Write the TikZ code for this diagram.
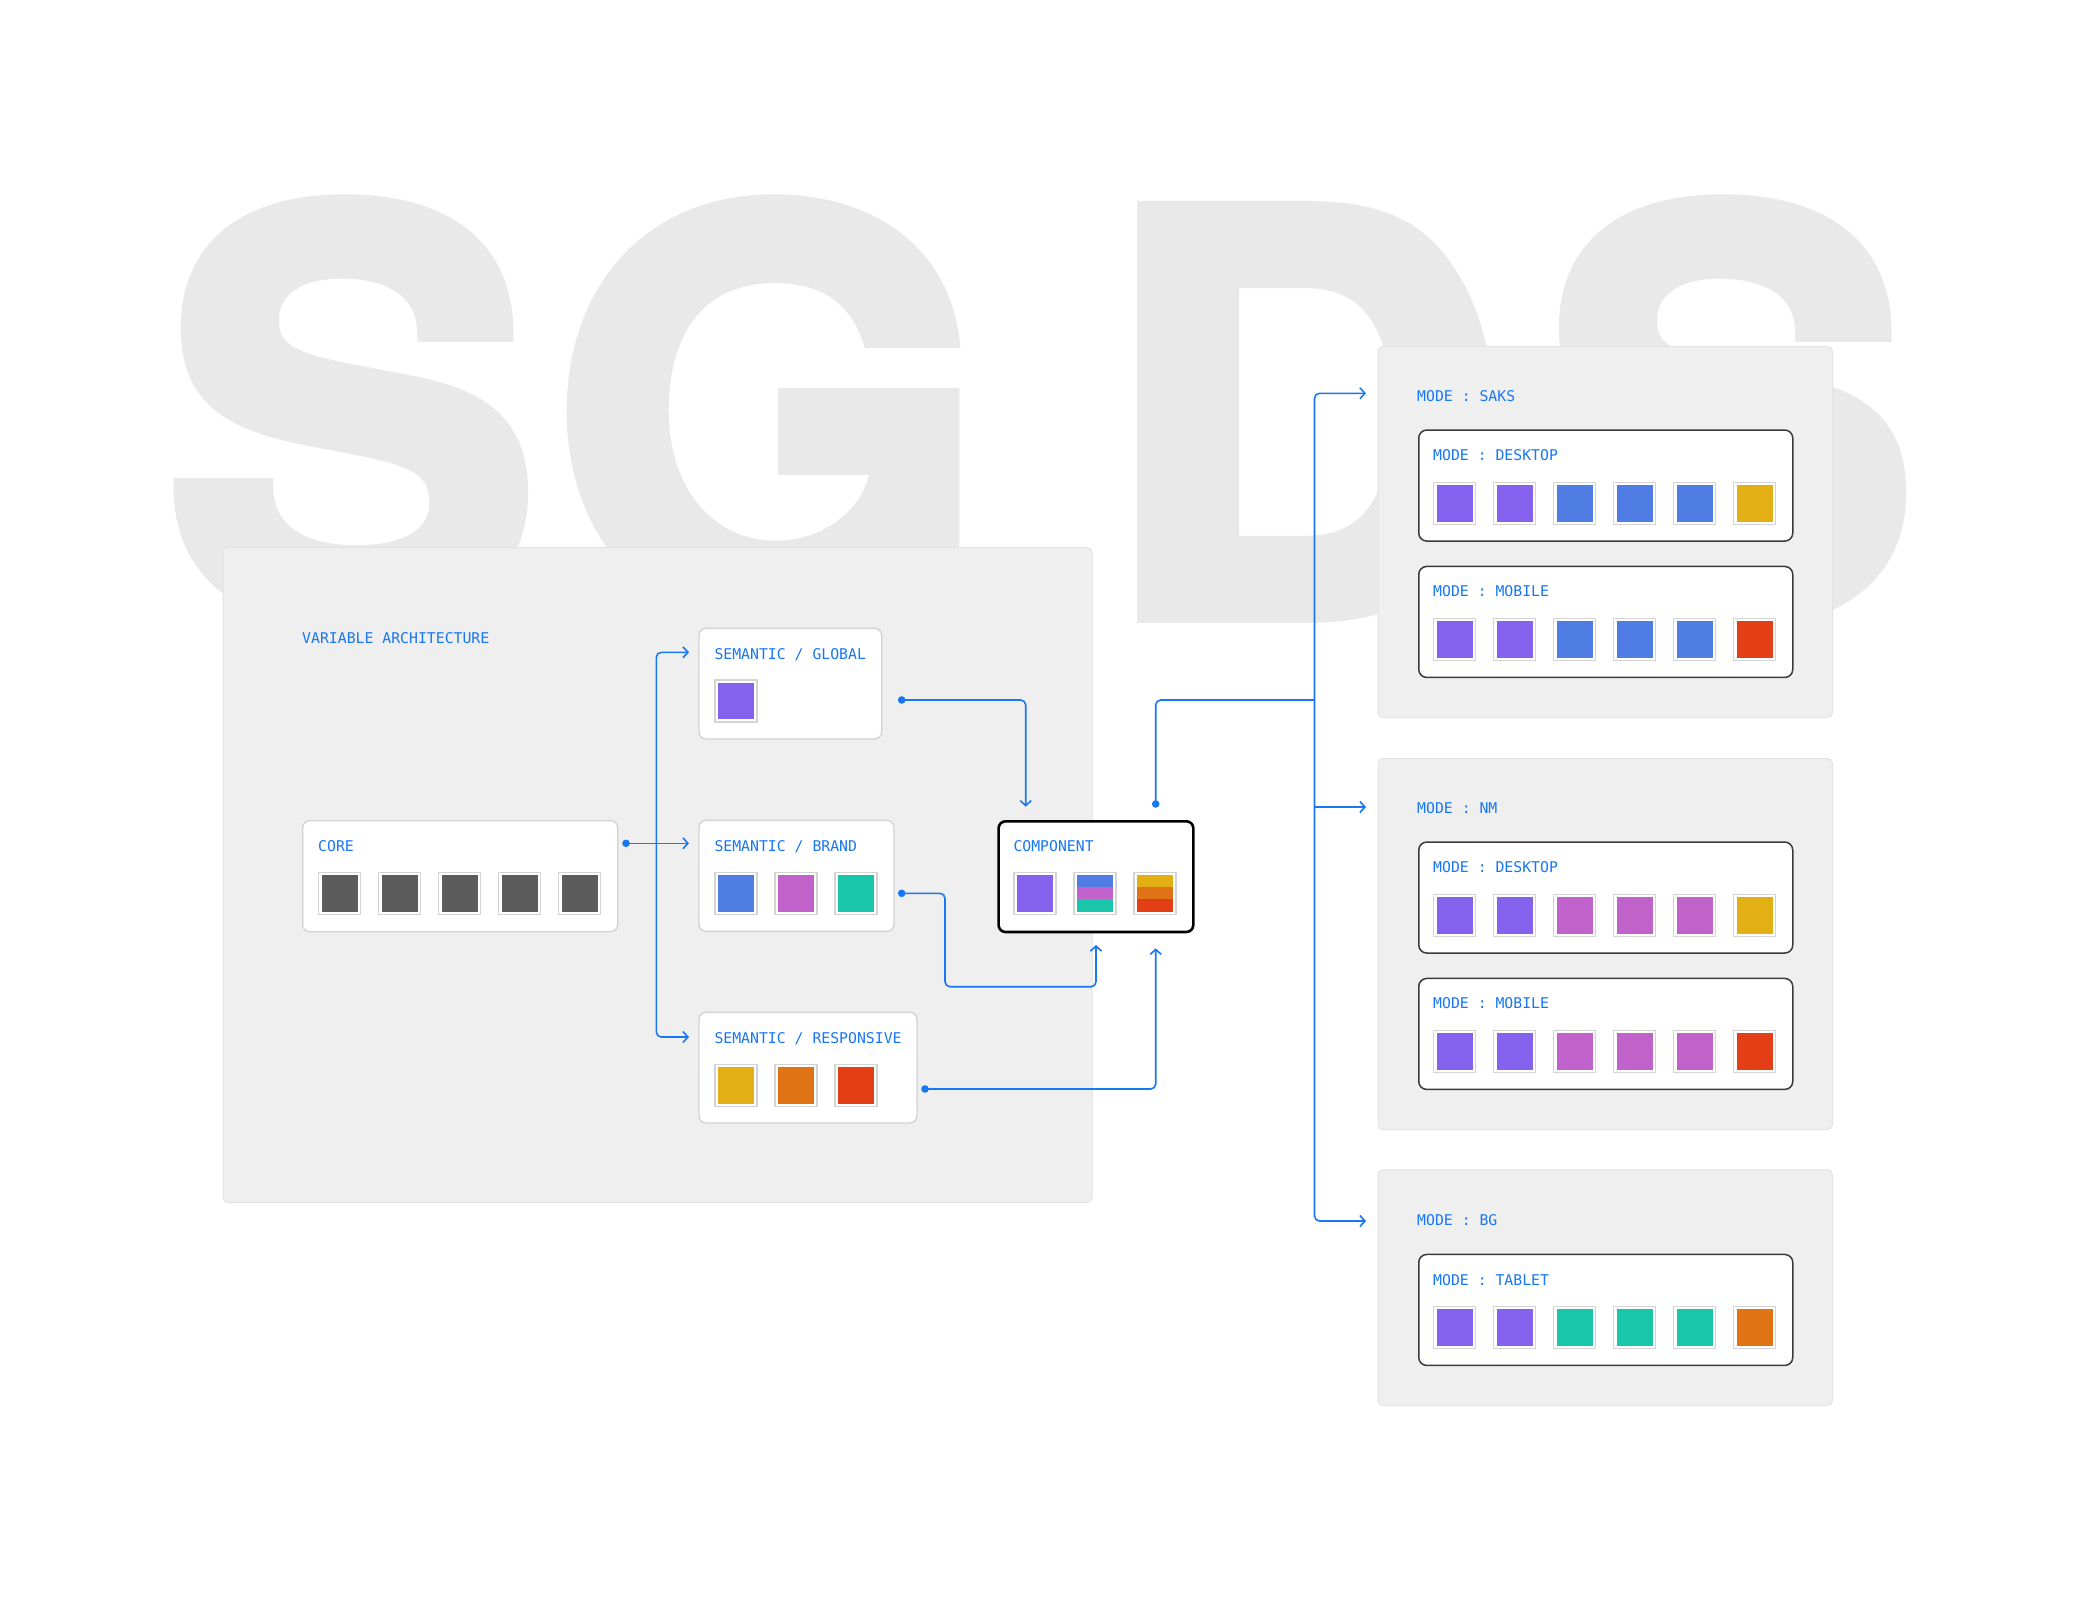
\documentclass[tikz,border=0pt]{standalone}
\usepackage{fontspec}
\newfontfamily\monof{DejaVu Sans Mono}
\newfontfamily\bigf[FakeBold=3.2]{TeX Gyre Heros}
\usetikzlibrary{arrows.meta,calc}
\definecolor{lnk}{HTML}{1877F2}
\definecolor{letter}{HTML}{E9E9E9}
\definecolor{panelc}{HTML}{EFEFEF}
\definecolor{panelb}{HTML}{E3E3E3}
\definecolor{cardb}{HTML}{D2D2D2}
\definecolor{modeb}{HTML}{3A3A3A}
\definecolor{swb}{HTML}{D4D4D4}
\definecolor{cgray}{HTML}{5C5C5C}
\definecolor{cpur}{HTML}{8562EE}
\definecolor{cblu}{HTML}{4F7DE3}
\definecolor{cmag}{HTML}{C062C9}
\definecolor{ctea}{HTML}{19C6AA}
\definecolor{cyel}{HTML}{E2B014}
\definecolor{cora}{HTML}{E07316}
\definecolor{cred}{HTML}{E43E16}
\tikzset{
  bigletter/.style={anchor=base west, inner sep=0, text=letter, font=\bigf\bfseries\fontsize{560}{570}\selectfont},
  panel/.style={draw=panelb, fill=panelc, line width=1pt, rounded corners=5pt, inner sep=0, anchor=north west},
  card/.style={draw=cardb, fill=white, line width=1.3pt, rounded corners=7pt, inner sep=0, anchor=north west},
  compcard/.style={draw=black, fill=white, line width=2.6pt, rounded corners=7pt, inner sep=0, anchor=north west},
  modecard/.style={draw=modeb, fill=white, line width=1.5pt, rounded corners=8pt, inner sep=0, anchor=north west,
    minimum width=374pt, minimum height=111pt},
  lbl/.style={anchor=base west, inner sep=0, text=lnk, font=\monof\fontsize{14.8}{16}\selectfont},
  conn/.style={draw=lnk, line width=1.6pt, rounded corners=5pt},
  arr/.style={-{Straight Barb[length=5pt,width=11pt]}},
  pics/sw/.style={code={
    \draw[swb, line width=1.2pt, fill=white] (-21,-21) rectangle (21,21);
    \fill[#1] (-18.2,-18.2) rectangle (18.2,18.2);
  }},
  pics/swstripe/.style args={#1/#2/#3}{code={
    \draw[swb, line width=1.2pt, fill=white] (-21,-21) rectangle (21,21);
    \fill[#1] (-18.2,-18.2) rectangle (18.2,-6.07);
    \fill[#2] (-18.2,-6.07) rectangle (18.2,6.07);
    \fill[#3] (-18.2,6.07) rectangle (18.2,18.2);
  }}
}
\newcommand{\tallglyph}[1]{\scalebox{1}[0.99]{#1}}
\begin{document}
\begin{tikzpicture}[x=1pt,y=-1pt]
\fill[white] (0,0) rectangle (2078,1598);
\useasboundingbox (0,0) rectangle (2078,1598);

% background lettering
\node[bigletter] (L1) at (164.4,614) {\tallglyph{S}};
\node[bigletter] (L2) at (552,614) {\tallglyph{G}};
\node[bigletter] (L3) at (1102.7,614) {\tallglyph{D}};
\node[bigletter] (L4) at (1542.5,614) {\tallglyph{S}};

% panels
\node[panel, minimum width=869pt, minimum height=655pt] (left) at (222.6,547) {};
\node[panel, minimum width=454.5pt, minimum height=371pt] (psaks) at (1377.5,346) {};
\node[panel, minimum width=454.5pt, minimum height=371pt] (pnm) at (1377.5,758) {};
\node[panel, minimum width=454.5pt, minimum height=235.7pt] (pbg) at (1377.5,1169.3) {};

\node[lbl] (tva) at (302,643) {VARIABLE ARCHITECTURE};

% cards
\node[card, minimum width=315pt, minimum height=111pt] (core) at (302,820) {};
\node[card, minimum width=182.7pt, minimum height=110.6pt] (glob) at (698.3,627.7) {};
\node[card, minimum width=195pt, minimum height=111pt] (brand) at (698.3,819.7) {};
\node[card, minimum width=218pt, minimum height=110.6pt] (resp) at (698.3,1011.7) {};
\node[compcard, minimum width=194.7pt, minimum height=110.7pt] (comp) at (997.3,820) {};

\node[lbl] (tcore) at (318,851) {CORE};
\node[lbl] (tglob) at (714.3,659.3) {SEMANTIC / GLOBAL};
\node[lbl] (tbrand) at (714.3,851.3) {SEMANTIC / BRAND};
\node[lbl] (tresp) at (714.3,1043.3) {SEMANTIC / RESPONSIVE};
\node[lbl] (tcomp) at (1013.3,851) {COMPONENT};

\foreach \i in {0,...,4} \pic at (339.7+60*\i,893.4) {sw=cgray};
\pic at (736,701) {sw=cpur};
\foreach \c [count=\i from 0] in {cblu,cmag,ctea} \pic at (736+60*\i,893.4) {sw=\c};
\foreach \c [count=\i from 0] in {cyel,cora,cred} \pic at (736+60*\i,1085.4) {sw=\c};
\pic at (1035,893.4) {sw=cpur};
\pic at (1095,893.4) {swstripe=cblu/cmag/ctea};
\pic at (1155,893.4) {swstripe=cyel/cora/cred};

% mode panels
\node[lbl] (tsaks) at (1417,401) {MODE : SAKS};
\node[lbl] (tnm) at (1417,813) {MODE : NM};
\node[lbl] (tbg) at (1417,1225) {MODE : BG};

\node[modecard] (sakd) at (1418,429.3) {};
\node[modecard] (sakm) at (1418,565.7) {};
\node[modecard] (nmd) at (1418,841.3) {};
\node[modecard] (nmm) at (1418,977.7) {};
\node[modecard] (bgt) at (1418,1253.7) {};

\node[lbl] at (1433,460.7) {MODE : DESKTOP};
\node[lbl] at (1433,596.7) {MODE : MOBILE};
\node[lbl] at (1433,872.7) {MODE : DESKTOP};
\node[lbl] at (1433,1008.7) {MODE : MOBILE};
\node[lbl] at (1433,1285) {MODE : TABLET};

\foreach \c [count=\i from 0] in {cpur,cpur,cblu,cblu,cblu,cyel} \pic at (1454.7+60*\i,503.4) {sw=\c};
\foreach \c [count=\i from 0] in {cpur,cpur,cblu,cblu,cblu,cred} \pic at (1454.7+60*\i,639.4) {sw=\c};
\foreach \c [count=\i from 0] in {cpur,cpur,cmag,cmag,cmag,cyel} \pic at (1454.7+60*\i,915.4) {sw=\c};
\foreach \c [count=\i from 0] in {cpur,cpur,cmag,cmag,cmag,cred} \pic at (1454.7+60*\i,1051.4) {sw=\c};
\foreach \c [count=\i from 0] in {cpur,cpur,ctea,ctea,ctea,cora} \pic at (1454.7+60*\i,1327.4) {sw=\c};

% connector coordinates
\coordinate (coreout) at (626,843.3);
\coordinate (brandin) at (689,843.3);
\coordinate (globin) at (689,652.3);
\coordinate (respin) at (689,1037);
\coordinate (busL) at (656.3,843.3);
\coordinate (globout) at (901.7,700);
\coordinate (compinA) at (1025.7,806.7);
\coordinate (brandout) at (901.7,893.3);
\coordinate (compinB) at (1096,945);
\coordinate (respout) at (925,1089);
\coordinate (compinC) at (1155.7,948.3);
\coordinate (compout) at (1155.7,804);
\coordinate (busR) at (1314.5,700);
\coordinate (sakin) at (1366,393.3);
\coordinate (nmin) at (1366,807);
\coordinate (bgin) at (1366,1221);

% connectors
\draw[conn, arr] (coreout) -- (brandin);
\draw[conn, {Straight Barb[length=5pt,width=11pt]}-{Straight Barb[length=5pt,width=11pt]}]
  (globin) -| (busL) |- (respin);
\draw[conn, arr] (globout) -| (compinA);
\draw[conn, arr] (brandout) -- ++(43.3,0) |- ($(compinB)+(0,41.7)$) -- (compinB);
\draw[conn, arr] (respout) -| (compinC);
\draw[conn] (compout) |- (busR);
\draw[conn, {Straight Barb[length=5pt,width=11pt]}-{Straight Barb[length=5pt,width=11pt]}]
  (sakin) -| (busR) |- (bgin);
\draw[conn, arr, sharp corners] (busR |- nmin) -- (nmin);
\foreach \p in {coreout,globout,brandout,respout,compout} \fill[lnk] (\p) circle (3.8);
\end{tikzpicture}
\end{document}
